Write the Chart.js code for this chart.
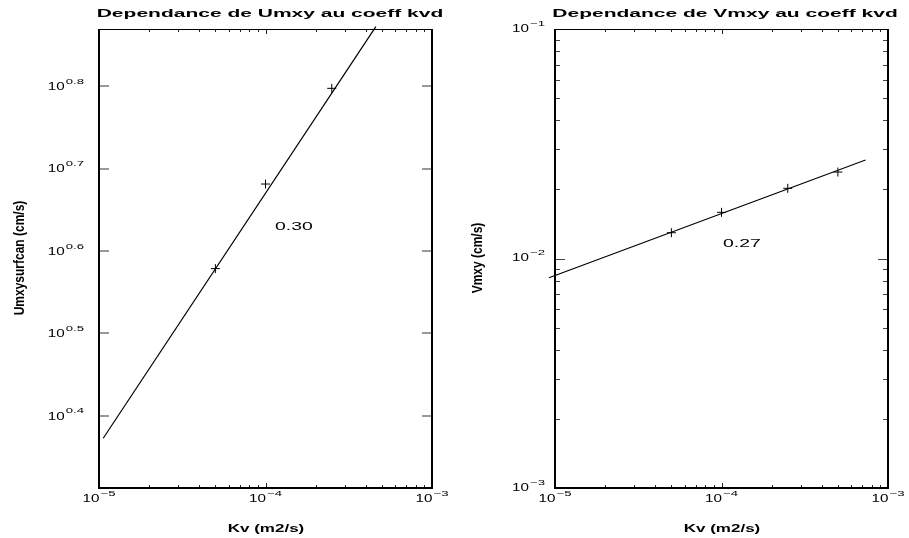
<!DOCTYPE html>
<html><head><meta charset="utf-8">
<script src="https://cdn.jsdelivr.net/npm/chart.js@4.4.0/dist/chart.umd.min.js"></script>
<style>
html,body{margin:0;padding:0;background:#fff;overflow:hidden}
#wrap{position:relative;width:909px;height:538px;background:#fff}
canvas{position:absolute;top:0}
</style></head><body>
<div id="wrap">
<canvas id="cu" width="455" height="538" style="left:0"></canvas>
<canvas id="cv" width="454" height="538" style="left:455px"></canvas>
</div>
<script>
// Runs: vertical diffusion coefficient Kv (m2/s) and the resulting max velocities
const kvU = [5e-5, 1e-4, 2.5e-4];
const umxySurf = [3.79, 4.80, 6.27];
const kvV = [5e-5, 1e-4, 2.5e-4, 5e-4];
const vmxy = [0.01295, 0.01589, 0.02022, 0.02381];

// Fitted power laws, drawn between these end points
const fitUKv = [1.06e-5, 4.6e-4];
const fitUVal = [2.36, 7.45];
const fitVKv = [9.2e-6, 7.33e-4];
const fitVVal = [0.00824, 0.02686];

// Fitted exponents and where their labels sit (kv, value)
const slopeU = '0.30';
const slopeUAt = [1.14e-4, 4.25];
const slopeV = '0.27';
const slopeVAt = [1.02e-4, 0.01156];

// Axis ranges and tick labels
const kvRange = [1e-5, 1e-3];
const kvDecades = [-5, -4, -3];
const uRange = [2.054, 7.40];
const uExps = ['0.4', '0.5', '0.6', '0.7', '0.8'];
const vRange = [1e-3, 1e-1];
const vDecades = [-3, -2, -1];

const FONT = '"Liberation Sans", Arial, Helvetica, sans-serif';
const MINUS = '\u2212';

function wideText(ctx, str, x, y, size, bold, sx, align) {
  ctx.save();
  ctx.font = (bold ? 'bold ' : '') + size + 'px ' + FONT;
  ctx.textBaseline = 'middle';
  ctx.textAlign = 'left';
  const w = ctx.measureText(str).width * sx;
  const left = align === 'center' ? x - w / 2 : align === 'right' ? x - w : x;
  ctx.translate(left, y);
  ctx.scale(sx, 1);
  ctx.fillStyle = '#000';
  ctx.fillText(str, 0, 0);
  ctx.restore();
  return w;
}

// "10" followed by a raised exponent
function powLabel(ctx, exp, x, y, align) {
  const bs = 10.5, bsx = 1.45, es = 7.5, esx = 1.75;
  ctx.save();
  ctx.font = bs + 'px ' + FONT;
  const wb = ctx.measureText('10').width * bsx;
  ctx.font = es + 'px ' + FONT;
  const we = ctx.measureText(exp).width * esx;
  ctx.restore();
  const tot = wb + 1 + we;
  const left = align === 'center' ? x - tot / 2 : align === 'right' ? x - tot : x;
  wideText(ctx, '10', left, y, bs, false, bsx, 'left');
  wideText(ctx, exp, left + wb + 1, y - 5.5, es, false, esx, 'left');
}

function sideTitle(ctx, str, x, y, size, across) {
  ctx.save();
  ctx.translate(x, y);
  ctx.scale(across, 1);
  ctx.rotate(-Math.PI / 2);
  ctx.font = 'bold ' + size + 'px ' + FONT;
  ctx.textAlign = 'center';
  ctx.textBaseline = 'middle';
  ctx.fillStyle = '#000';
  ctx.fillText(str, 0, 0);
  ctx.restore();
}

function line(ctx, x1, y1, x2, y2) {
  ctx.beginPath(); ctx.moveTo(x1, y1); ctx.lineTo(x2, y2); ctx.stroke();
}

// Frame, inward ticks and all texts of one panel
const panelDecor = {
  id: 'panelDecor',
  afterDraw(chart, args, o) {
    const ctx = chart.ctx, a = chart.chartArea, xs = chart.scales.x, ys = chart.scales.y;
    ctx.save();
    // x ticks (bottom and top)
    ctx.strokeStyle = '#222'; ctx.lineWidth = 1;
    for (let d = kvDecades[0]; d < kvDecades[kvDecades.length - 1]; d++) {
      for (let m = 2; m <= 9; m++) {
        const px = Math.round(xs.getPixelForValue(m * Math.pow(10, d))) + 0.5;
        line(ctx, px, a.bottom, px, a.bottom - 3);
        line(ctx, px, a.top, px, a.top + 3);
      }
      if (d > kvDecades[0]) {
        const px = Math.round(xs.getPixelForValue(Math.pow(10, d))) + 0.5;
        line(ctx, px, a.bottom, px, a.bottom - 5);
        line(ctx, px, a.top, px, a.top + 5);
      }
    }
    // y ticks (left and right)
    o.yTicks(ctx, a, ys);
    // frame
    ctx.strokeStyle = '#000';
    ctx.lineWidth = 2;
    line(ctx, a.left, a.top, a.left, a.bottom + 1);
    line(ctx, a.right, a.top, a.right, a.bottom + 1);
    line(ctx, a.left - 1, a.bottom, a.right + 1, a.bottom);
    ctx.lineWidth = 1;
    line(ctx, a.left, a.top + 0.5, a.right, a.top + 0.5);
    // x tick labels
    kvDecades.forEach(d => {
      powLabel(ctx, MINUS + Math.abs(d), xs.getPixelForValue(Math.pow(10, d)), a.bottom + 11, 'center');
    });
    o.yLabels(ctx, a, ys);
    // titles
    wideText(ctx, o.title, o.titleX, 14, 11.8, true, 1.78, 'center');
    wideText(ctx, 'Kv (m2/s)', o.xTitleX, 529, 10.5, true, 1.62, 'center');
    sideTitle(ctx, o.yTitle, o.yTitleX, o.yTitleY, 12, 1.2);
    // fitted exponent
    wideText(ctx, o.slope, xs.getPixelForValue(o.slopeAt[0]), ys.getPixelForValue(o.slopeAt[1]), 10.5, false, 1.85, 'left');
    ctx.restore();
  }
};

function baseOptions(pad, yRange, decor) {
  return {
    responsive: false,
    animation: false,
    layout: { padding: pad },
    scales: {
      x: { type: 'logarithmic', min: kvRange[0], max: kvRange[1], display: false },
      y: { type: 'logarithmic', min: yRange[0], max: yRange[1], display: false }
    },
    plugins: { legend: { display: false }, tooltip: { enabled: false }, panelDecor: decor }
  };
}

function pointSet(xv, yv) {
  return {
    data: xv.map((x, i) => ({ x, y: yv[i] })),
    showLine: false, pointStyle: 'cross', pointRadius: 4.5,
    borderColor: '#000', backgroundColor: '#000', borderWidth: 1
  };
}
function fitSet(xv, yv) {
  return {
    data: xv.map((x, i) => ({ x, y: yv[i] })),
    showLine: true, pointRadius: 0, borderColor: '#000', borderWidth: 1.2,
    fill: false, clip: false
  };
}

new Chart(document.getElementById('cu'), {
  type: 'scatter',
  data: { datasets: [pointSet(kvU, umxySurf), fitSet(fitUKv, fitUVal)] },
  options: baseOptions({ left: 99, right: 23, top: 29, bottom: 50 }, uRange, {
    title: 'Dependance de Umxy au coeff kvd', titleX: 270, xTitleX: 266,
    yTitle: 'Umxysurfcan (cm/s)', yTitleX: 20, yTitleY: 258,
    slope: slopeU, slopeAt: slopeUAt,
    yTicks(ctx, a, ys) {
      ctx.strokeStyle = '#777'; ctx.lineWidth = 1.5;
      uExps.forEach(e => {
        const py = Math.round(ys.getPixelForValue(Math.pow(10, +e)));
        line(ctx, a.left, py, a.left + 10, py);
        line(ctx, a.right, py, a.right - 10, py);
      });
    },
    yLabels(ctx, a, ys) {
      uExps.forEach(e => powLabel(ctx, e, a.left - 15, ys.getPixelForValue(Math.pow(10, +e)) + 1, 'right'));
    }
  }),
  plugins: [panelDecor]
});

new Chart(document.getElementById('cv'), {
  type: 'scatter',
  data: { datasets: [pointSet(kvV, vmxy), fitSet(fitVKv, fitVVal)] },
  options: baseOptions({ left: 100, right: 21, top: 29, bottom: 50 }, vRange, {
    title: 'Dependance de Vmxy au coeff kvd', titleX: 270, xTitleX: 267,
    yTitle: 'Vmxy (cm/s)', yTitleX: 23, yTitleY: 258,
    slope: slopeV, slopeAt: slopeVAt,
    yTicks(ctx, a, ys) {
      ctx.strokeStyle = '#444'; ctx.lineWidth = 1;
      for (let d = vDecades[0]; d < vDecades[vDecades.length - 1]; d++) {
        for (let m = 2; m <= 9; m++) {
          const py = Math.round(ys.getPixelForValue(m * Math.pow(10, d))) + 0.5;
          line(ctx, a.left, py, a.left + 5, py);
          line(ctx, a.right, py, a.right - 5, py);
        }
        if (d > vDecades[0]) {
          const py = Math.round(ys.getPixelForValue(Math.pow(10, d))) + 0.5;
          line(ctx, a.left, py, a.left + 10, py);
          line(ctx, a.right, py, a.right - 10, py);
        }
      }
    },
    yLabels(ctx, a, ys) {
      vDecades.forEach(d => powLabel(ctx, MINUS + Math.abs(d), a.left - 10, ys.getPixelForValue(Math.pow(10, d)), 'right'));
    }
  }),
  plugins: [panelDecor]
});
</script>
</body></html>
